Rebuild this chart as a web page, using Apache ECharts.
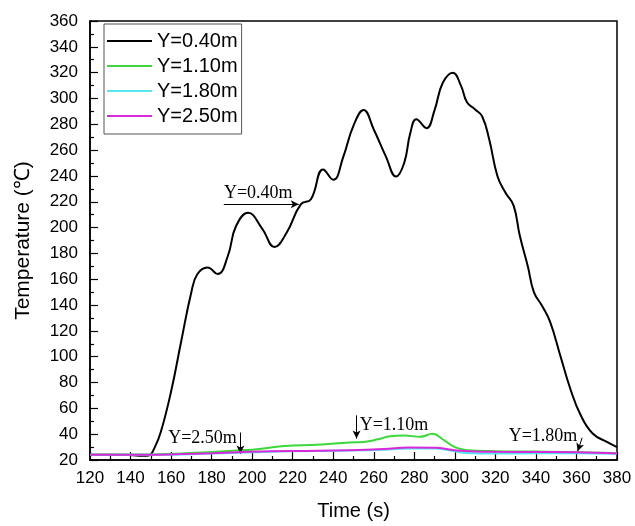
<!DOCTYPE html>
<html>
<head>
<meta charset="utf-8">
<script src="https://cdn.jsdelivr.net/npm/echarts@6/dist/echarts.min.js"></script>
<style>
  html, body { margin: 0; padding: 0; background: #fff; }
  #chart { width: 635px; height: 526px; }
</style>
</head>
<body>
<div id="chart"></div>
<script>
// Temperature histories at four heights (time in s, temperature in degC)
const names = ['Y=0.40m', 'Y=1.10m', 'Y=1.80m', 'Y=2.50m'];
const colors = ['#000000', '#3ad83a', '#55e6f0', '#d82ad8'];

const t040 = [120, 130, 140, 146, 149, 152, 155, 160, 165, 170, 173, 178, 183, 188, 192, 198, 205, 211, 217, 224, 229, 235, 240, 245, 250, 255, 260, 266, 271, 275, 278, 281, 286, 290, 294, 299, 303, 306, 310, 313.5, 317, 321, 325, 329, 332, 336, 339, 343, 347, 352, 357, 362, 368, 375, 380];
const v040 = [24, 24, 23.8, 23.2, 23.5, 30, 42, 73, 112, 150, 164, 169, 164, 178, 201, 211.5, 199, 185, 196, 218, 222, 245, 237, 255, 279, 291, 276, 255, 239.5, 250, 273, 284, 277, 291, 312, 320, 310, 297, 291.5, 286, 268, 240, 227, 217, 194, 170, 150, 139.5, 127, 101, 75, 55, 40.5, 34, 30];

const t110 = [120, 150, 160, 178, 194, 200, 216, 232, 248, 255, 262, 268, 275, 283, 289, 294.5, 300, 306, 320, 340, 360, 380];
const v110 = [24, 24.3, 24.8, 26, 27.6, 28, 30.8, 31.8, 33.5, 34, 36, 38.4, 39, 38, 40.3, 35.5, 30, 27.6, 26.8, 26.5, 26, 25.5];

const t180 = [120, 150, 180, 200, 220, 248, 265, 278, 290, 297, 305, 320, 340, 360, 380];
const v180 = [24, 24, 25, 26, 26.8, 27.3, 28, 29, 29, 27.5, 25.5, 25, 25.2, 25.3, 24.8];

const t250 = [120, 150, 165, 180, 199, 220, 248, 265, 277, 291, 301, 310, 320, 340, 360, 380];
const v250 = [24, 24, 24.6, 25.3, 26.3, 27, 27.6, 28.5, 29.6, 29.4, 27.3, 26.5, 26.3, 26.2, 26, 25];

// Annotation labels (centre in data coords) and their arrows
const noteText = ['Y=0.40m', 'Y=2.50m', 'Y=1.10m', 'Y=1.80m'];
const notePos = [[203, 226.5], [175.5, 36.5], [270, 47], [343.5, 38]];
const arrows = [
  [[186, 218], [223, 218]],
  [[194.2, 41.3], [194.2, 25]],
  [[251.5, 54.6], [251.5, 36.6]],
  [[362.8, 37.2], [360.6, 26.8]],
];

const zip = (ts, vs) => ts.map((t, i) => [t, vs[i]]);
const seriesData = [zip(t040, v040), zip(t110, v110), zip(t180, v180), zip(t250, v250)];

const chart = echarts.init(document.getElementById('chart'), null, { renderer: 'canvas' });

const sans = 'Liberation Sans, Arial, sans-serif';
const serif = 'Liberation Serif, Times New Roman, serif';

const series = names.map((name, i) => ({
  name: name,
  type: 'line',
  data: seriesData[i],
  smooth: 0.45,
  symbol: 'none',
  lineStyle: { color: colors[i], width: 2 },
  itemStyle: { color: colors[i] },
  z: 2 + i,
}));

// annotations ride on the last series
series[3].markLine = {
  silent: true,
  symbol: ['none', 'arrow'],
  symbolSize: [6, 8],
  label: { show: false },
  lineStyle: { color: '#000', width: 1, type: 'solid' },
  data: arrows.map(a => [{ coord: a[0] }, { coord: a[1] }]),
};
series[3].markPoint = {
  silent: true,
  symbol: 'rect',
  symbolSize: 1,
  itemStyle: { color: 'rgba(0,0,0,0)' },
  label: { show: true, position: 'inside', formatter: '{b}', color: '#000', fontFamily: serif, fontSize: 18 },
  data: noteText.map((txt, i) => ({ name: txt, coord: notePos[i] })),
};

chart.setOption({
  animation: false,
  backgroundColor: '#fff',
  grid: {
    left: 90, right: 18, top: 21, bottom: 65,
    show: true, borderColor: '#000', borderWidth: 1.5,
  },
  legend: {
    data: names,
    orient: 'vertical',
    left: 104, top: 24,
    padding: [7, 4, 8, 3],
    icon: 'rect',
    itemWidth: 45, itemHeight: 2, itemGap: 5,
    borderColor: '#555', borderWidth: 1,
    textStyle: { color: '#000', fontFamily: sans, fontSize: 20, lineHeight: 20 },
  },
  xAxis: {
    type: 'value',
    min: 120, max: 380, interval: 20,
    name: 'Time (s)', nameLocation: 'middle', nameGap: 41,
    nameTextStyle: { color: '#000', fontFamily: sans, fontSize: 20 },
    axisLine: { show: true, lineStyle: { color: '#000', width: 1.5 } },
    axisTick: { show: true, inside: true, length: 8, lineStyle: { color: '#000', width: 1.2 } },
    minorTick: { show: true, splitNumber: 2, length: 4, lineStyle: { color: '#000', width: 1.2 } },
    splitLine: { show: false },
    axisLabel: { color: '#000', fontFamily: sans, fontSize: 17, margin: 10 },
  },
  yAxis: {
    type: 'value',
    min: 20, max: 360, interval: 20,
    name: 'Temperature (℃)', nameLocation: 'middle', nameGap: 56,
    nameTextStyle: { color: '#000', fontFamily: sans, fontSize: 21 },
    axisLine: { show: true, lineStyle: { color: '#000', width: 1.5 } },
    axisTick: { show: true, inside: true, length: 8, lineStyle: { color: '#000', width: 1.2 } },
    minorTick: { show: true, splitNumber: 2, length: 4, lineStyle: { color: '#000', width: 1.2 } },
    splitLine: { show: false },
    axisLabel: { color: '#000', fontFamily: sans, fontSize: 17, margin: 12 },
  },
  series: series,
});
</script>
</body>
</html>
